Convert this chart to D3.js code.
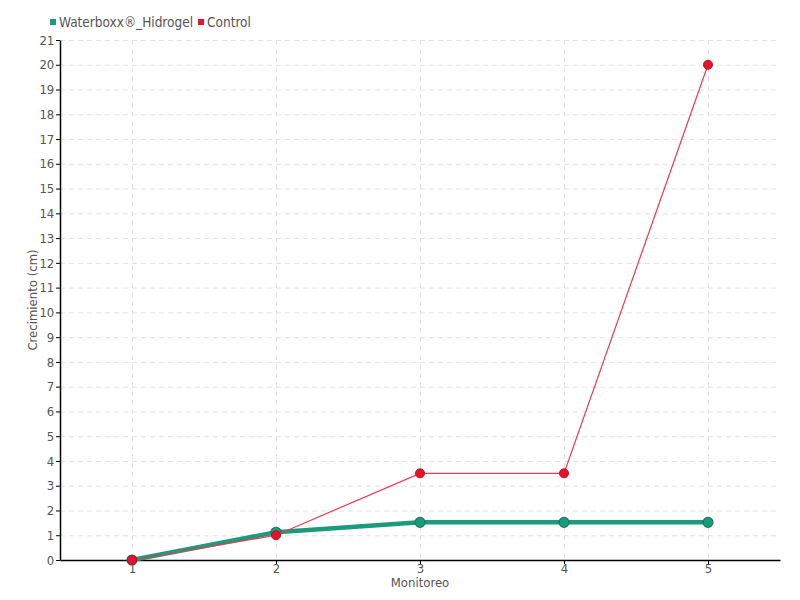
<!DOCTYPE html>
<html>
<head>
<meta charset="utf-8">
<script src="https://cdn.jsdelivr.net/npm/d3@7"></script>
<style>
  body { margin: 0; background: #fff; }
  text { font-family: "DejaVu Sans Condensed", "DejaVu Sans", sans-serif; font-stretch: condensed; fill: #555; }
</style>
</head>
<body>
<div id="chart"></div>
<script>
const monitoreos = ["1", "2", "3", "4", "5"];
const waterboxx = [0, 1.12, 1.52, 1.52, 1.52];
const control = [0, 1.0, 3.5, 3.5, 20];
const yTicks = d3.range(0, 22);

const width = 800, height = 600;
const margin = { top: 40, right: 20, bottom: 40, left: 60 };

const svg = d3.select("#chart").append("svg")
    .attr("width", width)
    .attr("height", height);

const x = d3.scalePoint()
    .domain(monitoreos)
    .range([margin.left, width - margin.right])
    .padding(0.5);

const y = d3.scaleLinear()
    .domain([0, 21])
    .range([height - margin.bottom, margin.top]);

// grid
svg.append("g")
    .selectAll("line")
    .data(yTicks.slice(1))
    .enter().append("line")
        .attr("x1", margin.left).attr("x2", width - margin.right)
        .attr("y1", d => y(d) + 0.5).attr("y2", d => y(d) + 0.5)
        .attr("stroke", "#e2e2e2")
        .attr("stroke-dasharray", "5,4");

svg.append("g")
    .selectAll("line")
    .data(monitoreos)
    .enter().append("line")
        .attr("x1", d => x(d) + 0.5).attr("x2", d => x(d) + 0.5)
        .attr("y1", margin.top).attr("y2", height - margin.bottom)
        .attr("stroke", "#e2e2e2")
        .attr("stroke-dasharray", "5,4");

// axes
const xAxis = svg.append("g")
    .attr("transform", `translate(0,${height - margin.bottom})`)
    .call(d3.axisBottom(x).tickSize(4).tickSizeOuter(0));
const yAxis = svg.append("g")
    .attr("transform", `translate(${margin.left},0)`)
    .call(d3.axisLeft(y).tickValues(yTicks).tickFormat(d3.format("d")).tickSize(4).tickSizeOuter(0));

[xAxis, yAxis].forEach(a => {
    a.attr("font-family", null);
    a.select(".domain").attr("stroke", "#000").attr("stroke-width", 1.5);
    a.selectAll(".tick line").attr("stroke", "#000");
    a.selectAll("text").attr("font-size", 13).attr("fill", "#555");
});
xAxis.selectAll("text").attr("dy", "0.45em");
yAxis.selectAll("text").attr("dx", "0.1em");

// axis titles
svg.append("text")
    .attr("x", x("3"))
    .attr("y", 587)
    .attr("text-anchor", "middle")
    .attr("font-size", 13)
    .text("Monitoreo");

svg.append("text")
    .attr("transform", `translate(37,${(margin.top + height - margin.bottom) / 2}) rotate(-90)`)
    .attr("text-anchor", "middle")
    .attr("font-size", 13)
    .text("Crecimiento (cm)");

const line = d3.line()
    .x((d, i) => x(monitoreos[i]))
    .y(d => y(d));

// waterboxx series
svg.append("path")
    .datum(waterboxx)
    .attr("d", line)
    .attr("fill", "none")
    .attr("stroke", "#1b9a7c")
    .attr("stroke-width", 4.5);

svg.append("g")
    .selectAll("circle")
    .data(waterboxx)
    .enter().append("circle")
        .attr("cx", (d, i) => x(monitoreos[i]))
        .attr("cy", d => y(d))
        .attr("r", 5)
        .attr("fill", "#1b9a7c")
        .attr("stroke", "#137a5f")
        .attr("stroke-width", 1.2);

// control series
svg.append("path")
    .datum(control)
    .attr("d", line)
    .attr("fill", "none")
    .attr("stroke", "#f2384f")
    .attr("stroke-width", 1.2);

svg.append("g")
    .selectAll("circle")
    .data(control)
    .enter().append("circle")
        .attr("cx", (d, i) => x(monitoreos[i]))
        .attr("cy", d => y(d))
        .attr("r", 4.5)
        .attr("fill", "#e8132a")
        .attr("stroke", "#b80f22")
        .attr("stroke-width", 1);

// legend, laid out left to right from the text widths
const legendItems = [
    { name: "Waterboxx®_Hidrogel", color: "#1b9a7c" },
    { name: "Control", color: "#e8132a" }
];
const legend = svg.append("g");
let lx = 50;
legendItems.forEach(item => {
    const g = legend.append("g").attr("transform", `translate(${lx},0)`);
    g.append("rect")
        .attr("x", 0).attr("y", 19)
        .attr("width", 6).attr("height", 6)
        .attr("fill", item.color);
    const t = g.append("text")
        .attr("x", 9).attr("y", 27)
        .attr("font-size", 13.5)
        .text(item.name);
    lx += 9 + t.node().getComputedTextLength() + 5;
});
</script>
</body>
</html>
